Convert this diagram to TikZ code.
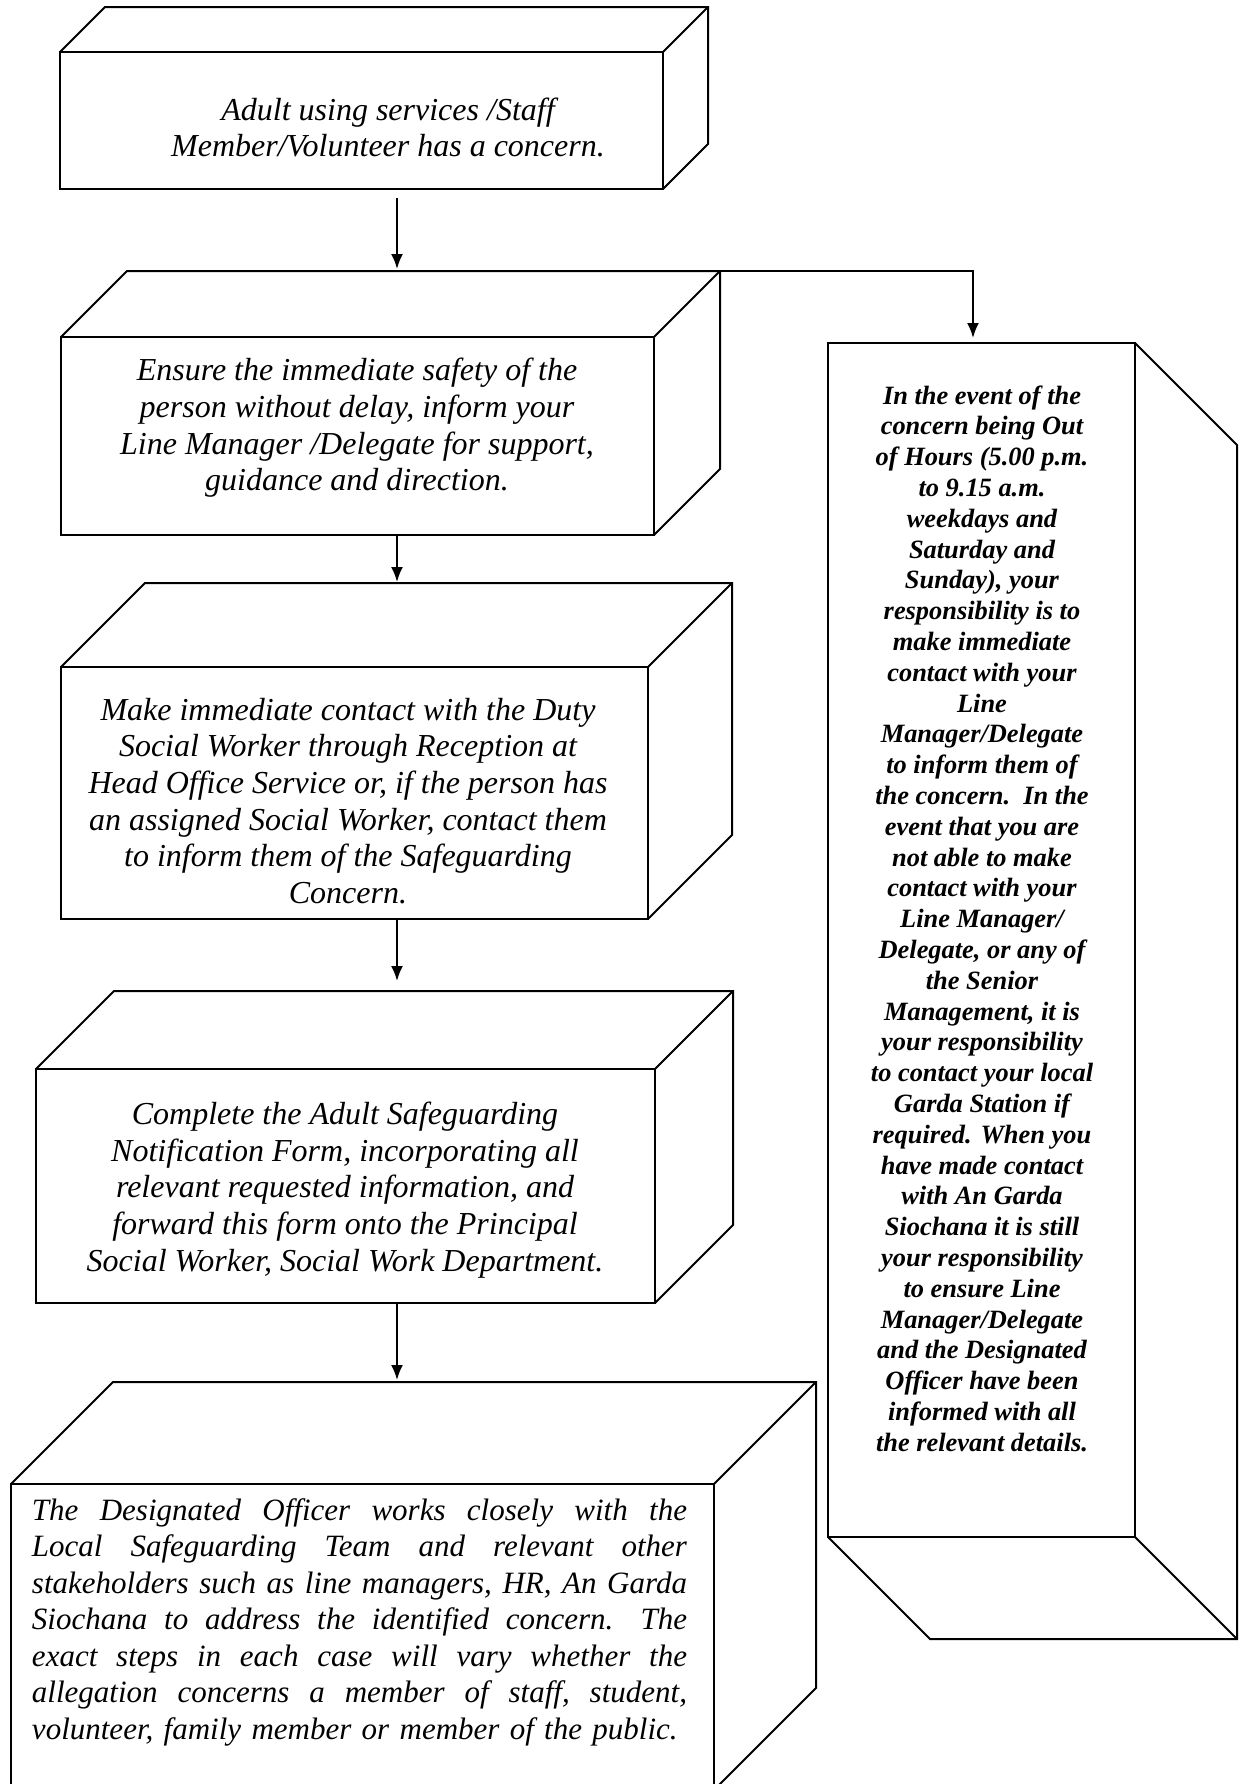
\documentclass[tikz,border=0pt]{standalone}
\usepackage{fontspec}
\setmainfont{Liberation Serif}
\usetikzlibrary{arrows.meta}
\newcommand\cuboid[6]{%
  \node[face, minimum width={(#4-#2)*0.5pt}, minimum height={(#5-#3)*0.5pt}] (#1) at ({(#2+#4)/2},{(#3+#5)/2}) {};
  \draw[edge] (#1.north west) -- ++(#6,-#6) -- ++({#4-#2},0) -- ++(0,{#5-#3}) -- (#1.south east);
  \draw[edge] (#1.north east) -- ++(#6,-#6);
}
\newcommand\jline[1]{\leavevmode\hbox to 327.5pt{#1}}
\newcommand\lastjline[1]{\leavevmode\hbox to 327.5pt{#1\hfil}}
\newcommand\g{\hspace{0pt plus 1fil}\ }
\begin{document}
\begin{tikzpicture}[x=0.5pt,y=-0.5pt,
  edge/.style={line width=1pt, line join=miter},
  face/.style={draw, line width=1pt, rectangle, inner sep=0pt, outer sep=0pt},
  lefttxt/.style={font=\fontsize{16}{18.35}\selectfont\itshape, align=center, inner sep=0pt},
  justtxt/.style={font=\fontsize{15.5}{18.25}\selectfont\itshape, align=left, text width=327.5pt, inner sep=0pt},
  righttxt/.style={font=\fontsize{13.2}{15.4}\selectfont\bfseries\itshape, align=center, inner sep=0pt},
  flow/.style={line width=1pt, -{Latex[length=7.5pt,width=6pt]}}]
\useasboundingbox (0,0) rectangle (1243,1784);

% boxes
\cuboid{b1}{60}{52}{663}{189}{45}
\cuboid{b2}{61}{337}{654}{535}{66}
\cuboid{b3}{61}{667}{648}{919}{84}
\cuboid{b4}{36}{1069}{655}{1303}{78}
\cuboid{b5}{11}{1484}{714}{1790}{102}

% right tall box (depth towards lower right)
\node[face, minimum width=153.5pt, minimum height=597pt] (r) at (981.5,940) {};
\draw[edge] (r.north east) -- ++(102,102) -- ++(0,1194) -- ++(-307,0) -- (r.south west);
\draw[edge] (r.south east) -- ++(102,102);

% texts
\node[lefttxt] (t1) at (388,127.5) {Adult using services /Staff\\Member/Volunteer has a concern.};
\node[lefttxt] (t2) at (357,428) {Ensure the immediate safety of the\\person without delay, inform your\\Line Manager /Delegate for support,\\guidance and direction.};
\node[lefttxt] (t3) at (348,801) {Make immediate contact with the Duty\\Social Worker through Reception at\\Head Office Service or, if the person has\\an assigned Social Worker, contact them\\to inform them of the Safeguarding\\Concern.};
\node[lefttxt] (t4) at (345,1190) {Complete the Adult Safeguarding\\Notification Form, incorporating all\\relevant requested information, and\\forward this form onto the Principal\\Social Worker, Social Work Department.};
\node[justtxt] (t5) at (359.5,1622) {%
\jline{The\g Designated\g Officer\g works\g closely\g with\g the}\\
\jline{Local\g Safeguarding\g Team\g and\g relevant\g other}\\
\jline{stakeholders\g such\g as\g line\g managers,\g HR,\g An\g Garda}\\
\jline{Siochana\g to\g address\g the\g identified\g concern.\ \g The}\\
\jline{exact\g steps\g in\g each\g case\g will\g vary\g whether\g the}\\
\jline{allegation\g concerns\g a\g member\g of\g staff,\g student,}\\
\lastjline{volunteer, family member or member of the public.}};
\node[righttxt] (tr) at (982,918.5) {In the event of the\\concern being Out\\of Hours (5.00 p.m.\\to 9.15 a.m.\\weekdays and\\Saturday and\\Sunday), your\\responsibility is to\\make immediate\\contact with your\\Line\\Manager/Delegate\\to inform them of\\the concern.\ \ In the\\event that you are\\not able to make\\contact with your\\Line Manager/\\Delegate, or any of\\the Senior\\Management, it is\\your responsibility\\to contact your local\\Garda Station if\\required. When you\\have made contact\\with An Garda\\Siochana it is still\\your responsibility\\to ensure Line\\Manager/Delegate\\and the Designated\\Officer have been\\informed with all\\the relevant details.};

% connectors
\coordinate (p1) at (397,198);
\coordinate (p2) at (397,269);
\coordinate (c2) at (720,271);
\coordinate (pr) at (973,338);
\coordinate (p3) at (397,582);
\coordinate (p4) at (397,981);
\coordinate (p5) at (397,1380);
\draw[flow] (p1) -- (p2);
\draw[flow] (c2) -| (pr);
\draw[flow] (p1 |- b2.south) -- (p3);
\draw[flow] (p1 |- b3.south) -- (p4);
\draw[flow] (p1 |- b4.south) -- (p5);
\end{tikzpicture}
\end{document}
